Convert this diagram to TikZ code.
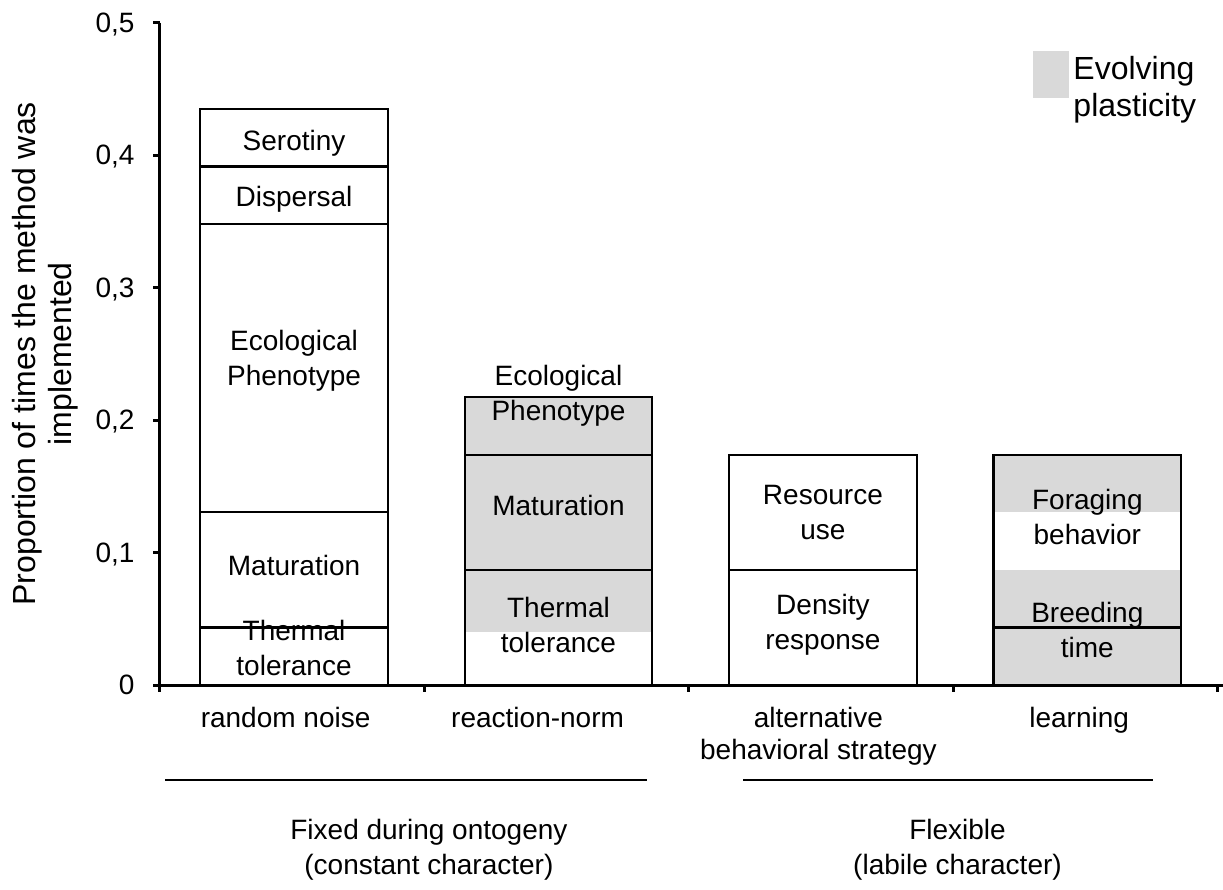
\documentclass[tikz,border=0pt]{standalone}
\usepackage{fontspec}
\setmainfont{Liberation Sans}
\usepackage{tikz}
\definecolor{evolgrey}{RGB}{217,217,217}

\begin{document}
\begin{tikzpicture}[x=132.2pt,y=662.5pt,font=\fontsize{14}{17.5}\selectfont,
  axis/.style={line width=1.5pt},
  barline/.style={line width=1.1pt},
  seglab/.style={align=center,inner sep=0pt},
  catlab/.style={anchor=north,align=center,inner sep=0pt}]
\useasboundingbox (-0.605,-0.154) rectangle (4.020,0.517);
% --- grey parts = evolving plasticity ---
\fill[evolgrey] (1.152,0.04) rectangle (1.862,5/23);
\fill[evolgrey] (3.152,0) rectangle (3.862,2/23);
\fill[evolgrey] (3.152,3/23) rectangle (3.862,4/23);
% --- the four stacked bars ---
\foreach \c/\t in {0.507/10,1.507/5,2.507/4,3.507/4}
  \draw[barline] (\c-0.355,0) rectangle (\c+0.355,\t/23);
\foreach \c/\h in {0.507/1,0.507/3,0.507/8,0.507/9,1.507/2,1.507/4,2.507/2,3.507/1}
  \draw[barline] (\c-0.355,\h/23) -- (\c+0.355,\h/23);
% --- what each part of a bar stands for ---
\node[seglab] (serotiny) at (0.507,0.409) {Serotiny};
\node[seglab] (dispersal) at (0.507,0.367) {Dispersal};
\node[seglab] (ecophen1) at (0.507,0.2445) {Ecological\\Phenotype};
\node[seglab] (matur1) at (0.507,0.0906) {Maturation};
\node[seglab] (thermal1) at (0.507,0.028) {Thermal\\tolerance};
\node[seglab] (ecophen2) at (1.507,0.218) {Ecological\\Phenotype};
\node[seglab] (matur2) at (1.507,0.1358) {Maturation};
\node[seglab] (thermal2) at (1.507,0.0453) {Thermal\\tolerance};
\node[seglab] (resource) at (2.507,0.1306) {Resource\\use};
\node[seglab] (density) at (2.507,0.0453) {Density\\response};
\node[seglab] (foraging) at (3.507,0.127) {Foraging\\behavior};
\node[seglab] (breeding) at (3.507,0.0415) {Breeding\\time};
% --- axes ---
\draw[axis] (0,0.5) -- (0,-0.0053);
\draw[axis] (-0.026,0) -- (4.02,0);
\foreach \v/\t in {0/0,1/{0,1},2/{0,2},3/{0,3},4/{0,4},5/{0,5}}
  {\draw[axis] (-0.026,\v/10) -- (0,\v/10);
   \node[anchor=east,inner sep=0pt,text depth=0pt] at (-0.0946,\v/10) {\t};}
\foreach \i in {1,...,4} \draw[axis] (\i,0) -- (\i,-0.0053);
\node[rotate=90,align=center,font=\fontsize{16}{18}\selectfont] (ylab) at (-0.435,0.25)
  {Proportion of times the method was\\implemented};
% --- methods and the two groups ---
\node[catlab] (noise) at (0.475,-0.016) {random noise};
\node[catlab] (reaction) at (1.428,-0.016) {reaction-norm};
\node[catlab,font=\fontsize{14}{16}\selectfont] (altstrat) at (2.49,-0.016) {alternative\\behavioral strategy};
\node[catlab] (learning) at (3.476,-0.016) {learning};
\draw[line width=1pt] (0.019,-0.0717) -- (1.842,-0.0717);
\draw[line width=1pt] (2.205,-0.0717) -- (3.756,-0.0717);
\node[catlab] (fixed) at (1.017,-0.101) {Fixed during ontogeny\\(constant character)};
\node[catlab] (flexible) at (3.016,-0.101) {Flexible\\(labile character)};
% --- legend ---
\fill[evolgrey] (3.302,0.443) rectangle (3.438,0.4785);
\node[anchor=west,align=left,inner sep=0pt,font=\fontsize{16}{18.5}\selectfont] (legend) at (3.453,0.449)
  {Evolving\\plasticity};
\end{tikzpicture}
\end{document}
